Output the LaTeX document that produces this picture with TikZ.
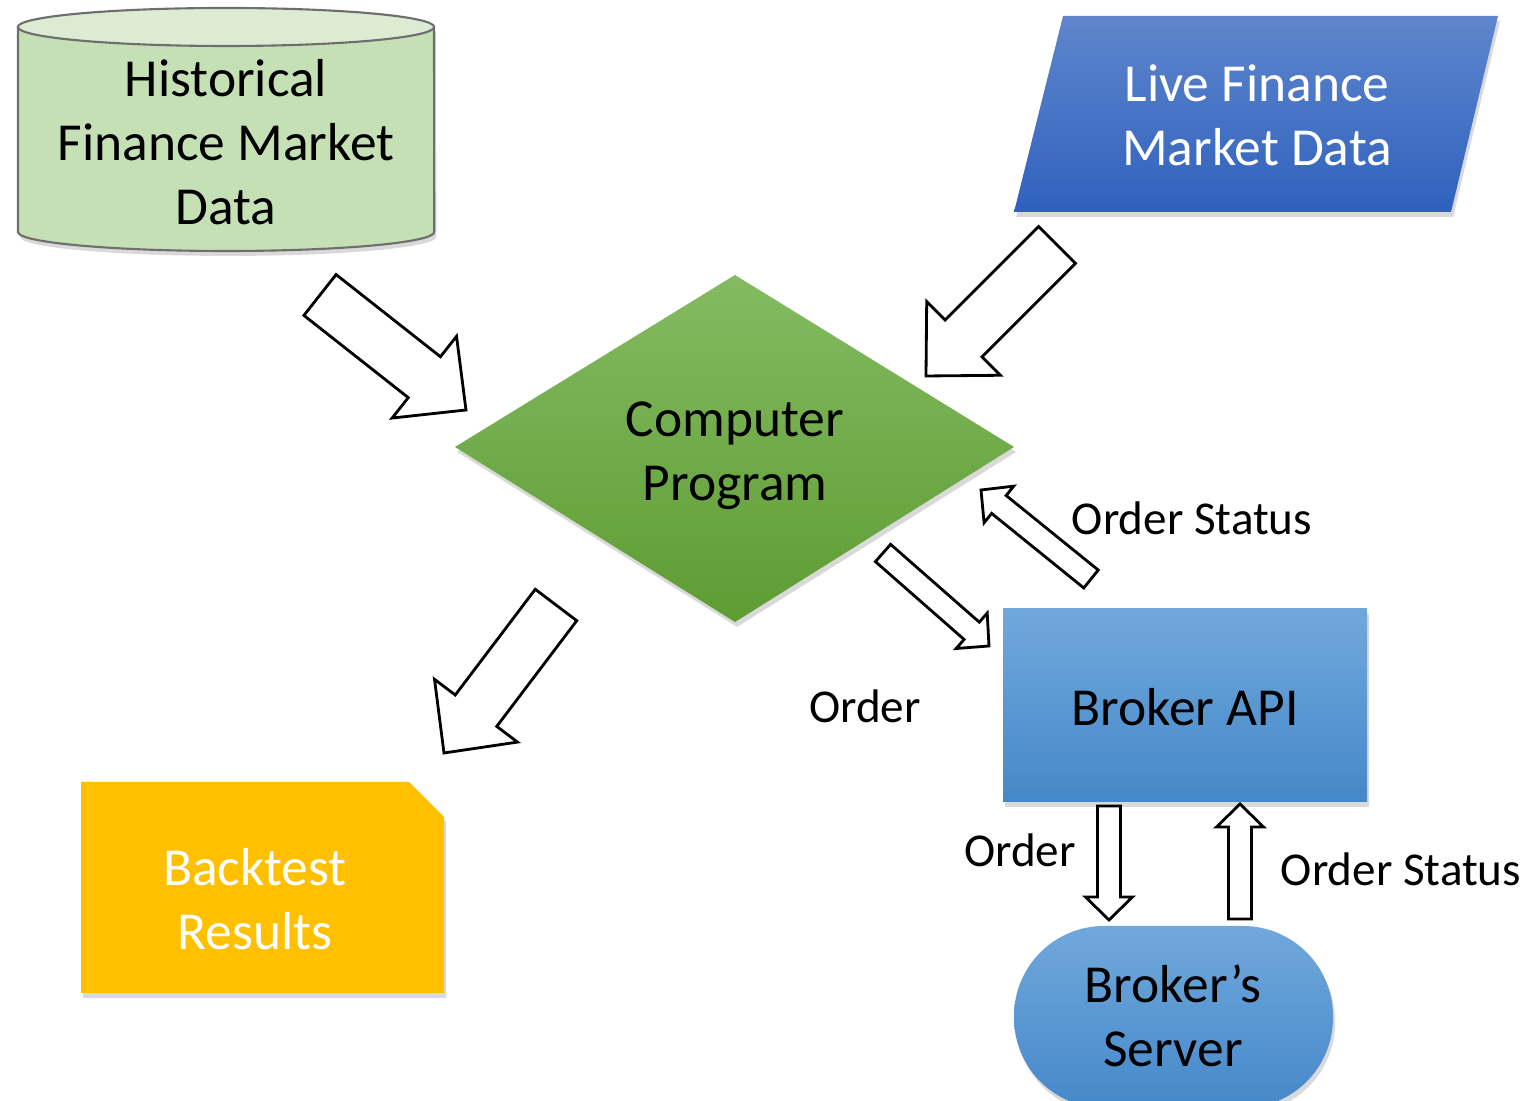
\documentclass[tikz,border=0pt]{standalone}
\usepackage{fontspec}
\setmainfont{Carlito}
\usepackage{tikz}
\usetikzlibrary{calc, shadows}
\definecolor{histGreen}{HTML}{C5E0B4}
\definecolor{histTop}{HTML}{DDEBD3}
\definecolor{histEdge}{HTML}{6E6E6E}
\definecolor{liveTop}{HTML}{5F86CD}
\definecolor{liveBot}{HTML}{2F61BD}
\definecolor{progTop}{HTML}{84BB62}
\definecolor{progBot}{HTML}{5E9C33}
\definecolor{apiTop}{HTML}{70A8DC}
\definecolor{apiBot}{HTML}{4588C9}
\definecolor{btYellow}{HTML}{FFC000}
\tikzset{
  boxshadow/.style={drop shadow={opacity=0.3, shadow xshift=0.6pt, shadow yshift=-1.4pt}},
  blockarr/.style={draw=black, fill=white, line width=0.8pt, line join=miter},
  maintext/.style={align=center, font=\fontsize{15.2}{18.2}\selectfont},
  lbltext/.style={font=\fontsize{13.4}{16}\selectfont},
}
% tail, tip, half shaft, half head, head length
\newcommand{\blockarrow}[5]{%
  \coordinate (ba-h) at ($(#2)!#5!(#1)$);
  \draw[blockarr] ($(#1)!#3!90:(#2)$) -- ($(ba-h)!#3!90:(#2)$) -- ($(ba-h)!#4!90:(#2)$) -- (#2)
    -- ($(ba-h)!#4!-90:(#2)$) -- ($(ba-h)!#3!-90:(#2)$) -- ($(#1)!#3!-90:(#2)$) -- cycle;
}
\newcommand{\bigblockarrow}[2]{\blockarrow{#1}{#2}{0.26cm}{0.52cm}{0.53cm}}
\newcommand{\smallblockarrow}[2]{\blockarrow{#1}{#2}{0.115cm}{0.235cm}{0.23cm}}

\begin{document}
\begin{tikzpicture}[x=0.01cm, y=-0.01cm]
  \clip (0,0) rectangle (1529,1101);
  % historical data
  \filldraw[fill=histGreen, draw=histEdge, line width=0.6pt, boxshadow] (18,27) -- (18,232)
    arc[start angle=180, end angle=360, x radius=2.08cm, y radius=0.19cm] -- (434,27) -- cycle;
  \filldraw[fill=histTop, draw=histEdge, line width=0.6pt] (226,27) ellipse[x radius=2.08cm, y radius=0.19cm];
  \node[maintext] (hist) at (226,142) {Historical\\Finance Market\\Data};

  % live data
  \shade[top color=liveTop, bottom color=liveBot, boxshadow] (1063,16) -- (1498,16) -- (1451,212) -- (1014,212) -- cycle;
  \node[maintext, text=white] (live) at (1257,115) {Live Finance\\Market Data};

  % program
  \shade[top color=progTop, bottom color=progBot, boxshadow] (735,275) -- (1014,447) -- (735,622) -- (455,447) -- cycle;
  \node[maintext] (prog) at (735,456) {Computer\\Program};

  % broker
  \shade[top color=apiTop, bottom color=apiBot, boxshadow] (1003,609) rectangle (1367,802);
  \node[maintext] (api) at (1185,707) {Broker API};
  \shade[top color=apiTop, bottom color=apiBot, boxshadow, rounded corners=0.9cm] (1014,926) rectangle (1333,1108);
  \node[maintext] (server) at (1173,1016) {Broker’s\\Server};

  % results
  \fill[btYellow, boxshadow] (81,782) -- (409,782) -- (444,817) -- (444,993) -- (81,993) -- cycle;
  \node[maintext, text=white] (results) at (255,899) {Backtest\\Results};

  % arrow ends
  \coordinate (hist-out) at (320,295);
  \coordinate (prog-in1) at (466,410);
  \coordinate (live-out) at (1057,245);
  \coordinate (prog-in2) at (926,376);
  \coordinate (prog-out) at (556,605);
  \coordinate (results-in) at (444,753);
  \coordinate (order-a) at (883,553);
  \coordinate (order-b) at (989,646);
  \coordinate (status-a) at (1091,579);
  \coordinate (status-b) at (981,490);
  \coordinate (api-out) at (1109,806);
  \coordinate (server-in) at (1109,920);
  \coordinate (server-out) at (1240,919);
  \coordinate (api-in) at (1240,804);

  \bigblockarrow{hist-out}{prog-in1}
  \bigblockarrow{live-out}{prog-in2}
  \bigblockarrow{prog-out}{results-in}
  \smallblockarrow{order-a}{order-b}
  \smallblockarrow{status-a}{status-b}
  \smallblockarrow{api-out}{server-in}
  \smallblockarrow{server-out}{api-in}

  % labels
  \node[lbltext] (l-status1) at (1192,518) {Order Status};
  \node[lbltext] (l-order1) at (865,706) {Order};
  \node[lbltext] (l-order2) at (1020,850) {Order};
  \node[lbltext] (l-status2) at (1401,869) {Order Status};
\end{tikzpicture}
\end{document}
